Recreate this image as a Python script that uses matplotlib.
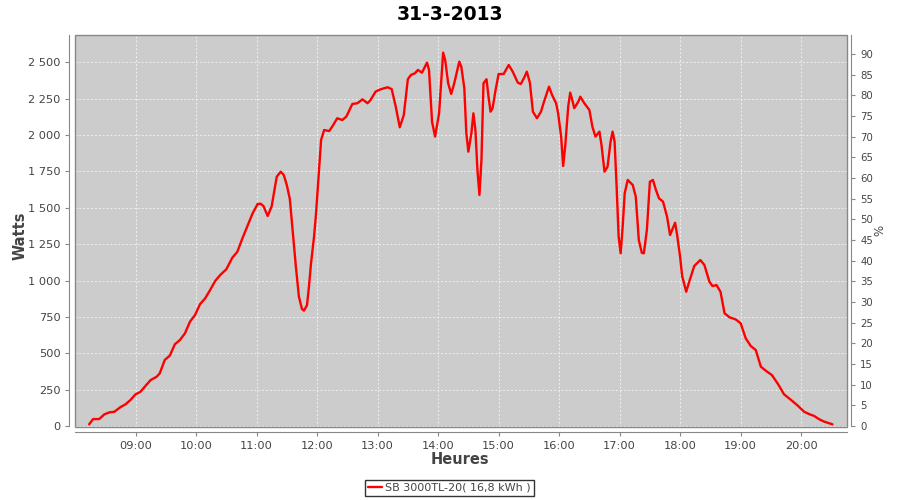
import matplotlib
matplotlib.use("Agg")
import matplotlib.pyplot as plt
from matplotlib.ticker import FuncFormatter, FixedLocator
from matplotlib.patches import Rectangle

title = "31-3-2013"
series_label = "SB 3000TL-20( 16,8 kWh )"
y_label = "Watts"
x_label = "Heures"
y2_label = "%"

times = [
    "08:14", "08:18", "08:24", "08:29", "08:34", "08:39", "08:45", "08:50", "08:55", "09:00",
    "09:05", "09:10", "09:15", "09:21", "09:24", "09:29", "09:34", "09:39", "09:44", "09:49",
    "09:54", "09:59", "10:04", "10:09", "10:14", "10:19", "10:24", "10:30", "10:36", "10:41",
    "10:46", "10:51", "10:56", "11:01", "11:04", "11:07", "11:11", "11:15", "11:20", "11:24",
    "11:27", "11:30", "11:33", "11:36", "11:39", "11:42", "11:45", "11:47", "11:50", "11:52",
    "11:54", "11:57", "11:59", "12:02",
    "12:04", "12:07", "12:12", "12:15", "12:20", "12:25", "12:29", "12:35", "12:40", "12:45",
    "12:50", "12:53", "12:58", "13:03", "13:10", "13:14", "13:18", "13:22", "13:26", "13:30",
    "13:33", "13:37", "13:40", "13:44", "13:49", "13:51", "13:54", "13:57", "14:01", "14:05",
    "14:07", "14:10", "14:13", "14:16", "14:21", "14:23", "14:26", "14:28", "14:30", "14:33",
    "14:35", "14:37", "14:39", "14:41", "14:43", "14:45", "14:48", "14:50", "14:52", "14:54",
    "14:57", "15:00", "15:05", "15:10", "15:14", "15:19", "15:22", "15:25", "15:28", "15:31",
    "15:34", "15:38", "15:42", "15:45", "15:50", "15:53", "15:57", "15:59", "16:02", "16:04",
    "16:06", "16:09", "16:11", "16:13", "16:15", "16:19", "16:21", "16:25", "16:30", "16:33",
    "16:36", "16:40", "16:42", "16:45", "16:48", "16:51", "16:53", "16:55", "16:57", "16:59",
    "17:01", "17:03", "17:05", "17:08", "17:13", "17:16", "17:19", "17:22", "17:24", "17:27",
    "17:30", "17:33", "17:36", "17:39", "17:43", "17:47", "17:50", "17:55", "17:57", "18:00",
    "18:02", "18:06", "18:09", "18:14", "18:20", "18:24", "18:29", "18:32", "18:36", "18:40",
    "18:44", "18:49", "18:55", "19:00", "19:05", "19:10", "19:15", "19:20", "19:25", "19:31",
    "19:37", "19:43", "19:50", "19:56", "20:03", "20:08", "20:13", "20:18", "20:23", "20:28",
    "20:31",
]
watts = [
    12, 48, 48, 80, 94, 98, 130, 149, 179, 218,
    236, 277, 316, 339, 362, 454, 484, 562, 591, 637,
    717, 763, 838, 877, 935, 997, 1038, 1077, 1157, 1198,
    1290, 1375, 1460, 1525, 1528, 1510, 1443, 1510, 1713, 1748,
    1725, 1656, 1560, 1324, 1095, 889, 805, 793, 830, 960,
    1118, 1300, 1462, 1760,
    1966, 2034, 2027, 2057, 2115, 2103, 2126, 2213, 2218, 2245,
    2218, 2240, 2298, 2314, 2328, 2315, 2195, 2053, 2137, 2383,
    2412, 2424, 2447, 2428, 2497, 2447, 2091, 1989, 2149, 2566,
    2516, 2355, 2282, 2355, 2504, 2470, 2321, 2012, 1885, 2012,
    2149, 2034, 1760, 1588, 1828, 2355, 2383, 2263, 2160, 2183,
    2309, 2419, 2419, 2481, 2435, 2360, 2350, 2389, 2435, 2360,
    2160, 2115, 2160, 2229, 2332, 2275, 2218, 2149, 1989, 1787,
    1920, 2195, 2291, 2241, 2184, 2229, 2263, 2218, 2172, 2057,
    1989, 2023, 1931, 1748, 1782, 1954, 2023, 1954, 1645, 1301,
    1187, 1370, 1599, 1691, 1656, 1576, 1278, 1190, 1187, 1347,
    1679, 1691, 1622, 1565, 1542, 1439, 1313, 1397, 1313, 1160,
    1030, 923, 992, 1100, 1141, 1107, 992, 962, 969, 923,
    775, 747, 733, 706, 603, 550, 522, 408, 380, 350,
    289, 218, 179, 144, 98, 82, 69, 46, 30, 19,
    12,
]
hour_ticks = list(range(9, 21))
watt_ticks = list(range(0, 2501, 250))
pct_ticks = list(range(0, 91, 5))


def to_hours(s):
    h, m = s.split(":")
    return int(h) + int(m) / 60.0


xs = [to_hours(t) for t in times]

plt.rcParams['font.family'] = ['DejaVu Sans']
fig = plt.figure(figsize=(9, 5), dpi=100)
W, H = 900, 500
left, right, top, bottom = 75, 847, 35, 426.5
ax = fig.add_axes([left / W, 1 - bottom / H, (right - left) / W, (bottom - top) / H])
ax.set_facecolor("#cccccc")

line, = ax.plot(xs, watts, color="#ff0000", lw=1.7, solid_joinstyle="round",
                solid_capstyle="round", zorder=3)

ax.set_xlim(8.0, 20.757)
ax.set_ylim(-3, 2687)
ax.xaxis.set_major_locator(FixedLocator(hour_ticks))
ax.xaxis.set_major_formatter(FuncFormatter(lambda v, p: "%02d:00" % int(round(v))))
ax.yaxis.set_major_locator(FixedLocator(watt_ticks))
ax.yaxis.set_major_formatter(FuncFormatter(lambda v, p: ("{:,}".format(int(v))).replace(",", " ")))

ax.grid(True, color="#f0f0f0", linestyle=(0, (2, 2)), linewidth=0.7)
ax.set_axisbelow(True)

gray = "#888888"
for s in ["left", "bottom"]:
    ax.spines[s].set_position(("outward", 4))
    ax.spines[s].set_color(gray)
ax.spines["top"].set_visible(False)
ax.spines["right"].set_visible(False)
ax.add_patch(Rectangle((0, 0), 1, 1, transform=ax.transAxes, fill=False,
                       edgecolor=gray, lw=1.0, zorder=5, clip_on=False))

ax.tick_params(axis="both", colors=gray, labelcolor="#444444", labelsize=8.2,
               length=3, width=0.8, direction="out")

ax2 = ax.twinx()
ax2.set_ylim(-0.1, 94.6)
ax2.yaxis.set_major_locator(FixedLocator(pct_ticks))
for s in ["left", "bottom", "top"]:
    ax2.spines[s].set_visible(False)
ax2.spines["right"].set_position(("outward", 3))
ax2.spines["right"].set_color(gray)
ax2.tick_params(axis="y", colors=gray, labelcolor="#444444", labelsize=7.3,
                length=3, width=0.8, direction="out")

fig.text(450 / W, 1 - 14 / H, title, ha="center", va="center",
         fontsize=13.5, fontweight="bold", color="black")
fig.text(20 / W, 1 - 236 / H, y_label, ha="center", va="center", rotation=90,
         fontsize=10.5, fontweight="bold", color="#444444")
fig.text(460 / W, 1 - 460 / H, x_label, ha="center", va="center",
         fontsize=10.5, fontweight="bold", color="#444444")
fig.text(880 / W, 1 - 230 / H, y2_label, ha="center", va="center", rotation=90,
         fontsize=8.5, color="#444444")

leg = fig.legend([line], [series_label], loc="center", bbox_to_anchor=(449.5 / W, 1 - 488 / H),
                 frameon=True, fancybox=False, edgecolor="black", fontsize=8,
                 handlelength=1.2, handletextpad=0.3, borderpad=0.3, borderaxespad=0)
leg.get_frame().set_linewidth(1.0)
for t in leg.get_texts():
    t.set_color("#444444")

fig.savefig("out.png", dpi=100)
